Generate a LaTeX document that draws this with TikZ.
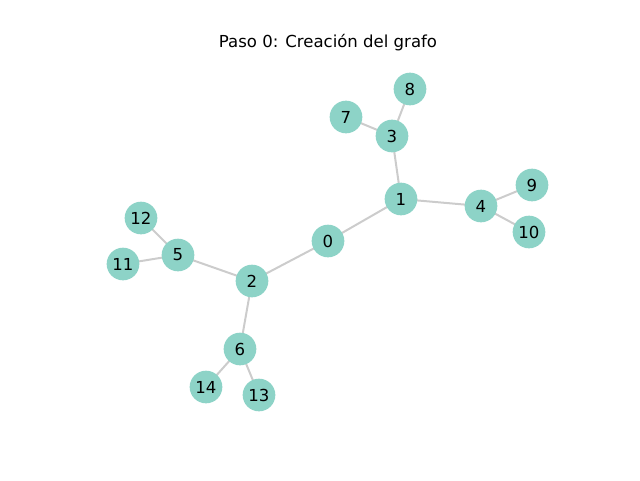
\documentclass[tikz,border=0pt]{standalone}
\usepackage{fontspec}
\setmainfont{DejaVu Sans}
\definecolor{vertexfill}{HTML}{8DD3C7}
\definecolor{edgegray}{HTML}{CCCCCC}
\tikzset{
  vertex/.style={circle,fill=vertexfill,minimum size=24.5pt,inner sep=0pt,font=\fontsize{12.4}{14}\selectfont},
  edge/.style={draw=edgegray,line width=1.5pt}
}
\begin{document}
\begin{tikzpicture}[x=0.75pt,y=-0.75pt]
\useasboundingbox (0,0) rectangle (640,480);
\node[font=\fontsize{12.4}{14}\selectfont] (title) at (328,43) {Paso 0: Creación del grafo};
\foreach \name/\px/\py in {0/328/241,1/401/199,2/252/281,3/392/136,4/481/206,5/178/255,6/240/349,7/346/117,8/410/89,9/532/185,10/529/232,11/123/264,12/141/218,13/259/395,14/206/387}
  \coordinate (p\name) at (\px,\py);
\foreach \a/\b in {0/1,0/2,1/3,1/4,3/7,3/8,4/9,4/10,2/5,2/6,5/11,5/12,6/13,6/14}
  \draw[edge] (p\a) -- (p\b);
\foreach \name in {0,...,14}
  \node[vertex] (v\name) at (p\name) {\name};
\end{tikzpicture}
\end{document}
